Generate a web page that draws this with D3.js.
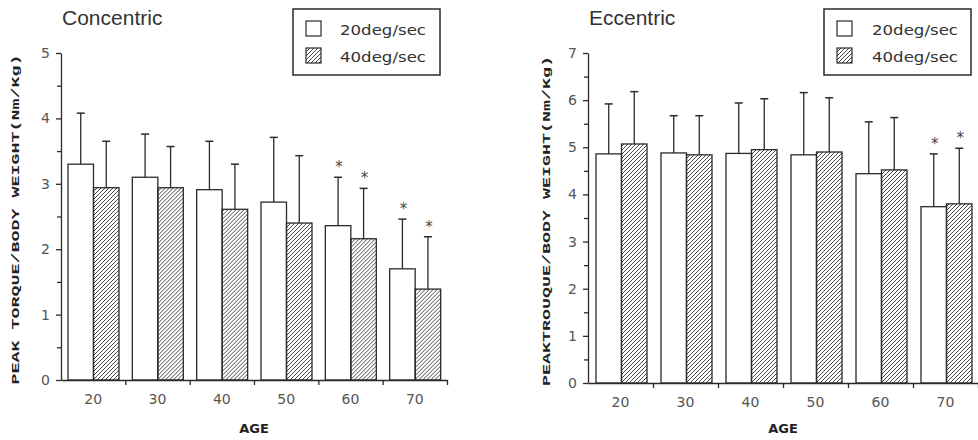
<!DOCTYPE html>
<html>
<head>
<meta charset="utf-8">
<script src="https://cdn.jsdelivr.net/npm/d3@7"></script>
<style>
  body { margin: 0; background: #fff; }
  .domain, .tick line { stroke: #2a2a2a; stroke-width: 1.3; }
</style>
</head>
<body>
<div class="chart"></div>
<script>
// data
var ages = [20, 30, 40, 50, 60, 70];
var seriesNames = ["20deg/sec", "40deg/sec"];

var concMean20 = [3.30, 3.10, 2.91, 2.72, 2.36, 1.70];
var concSD20   = [0.78, 0.66, 0.74, 0.99, 0.74, 0.76];
var concMean40 = [2.94, 2.94, 2.61, 2.40, 2.16, 1.39];
var concSD40   = [0.71, 0.63, 0.69, 1.03, 0.77, 0.80];
var concSig = [60, 70];

var eccMean20 = [4.86, 4.88, 4.87, 4.84, 4.44, 3.74];
var eccSD20   = [1.06, 0.79, 1.07, 1.32, 1.10, 1.12];
var eccMean40 = [5.07, 4.84, 4.95, 4.90, 4.52, 3.80];
var eccSD40   = [1.11, 0.83, 1.08, 1.15, 1.11, 1.18];
var eccSig = [70];

var concTicks = [0, 1, 2, 3, 4, 5];
var eccTicks = [0, 1, 2, 3, 4, 5, 6, 7];

var svg = d3.select(".chart")
  .append("svg")
  .attr("width", 978)
  .attr("height", 440);

// hatch fill
var defs = svg.append("defs");
defs.append("pattern")
  .attr("id", "hatch")
  .attr("patternUnits", "userSpaceOnUse")
  .attr("width", 4)
  .attr("height", 4)
  .append("path")
  .attr("d", "M-1,1 l2,-2 M0,4 l4,-4 M3,5 l2,-2")
  .attr("stroke", "#333")
  .attr("stroke-width", 0.9);

function styleTicks(sel) {
  sel.selectAll(".tick text")
    .attr("font-family", "DejaVu Sans, sans-serif")
    .attr("font-size", "14px")
    .attr("fill", "#555");
}

function drawPanel(p) {
  var g = svg.append("g");

  var rows = ages.map(function(a, i) {
    return {age: a, vals: [
      {s: seriesNames[0], m: p.mean20[i], sd: p.sd20[i]},
      {s: seriesNames[1], m: p.mean40[i], sd: p.sd40[i]}
    ]};
  });

  var x0 = d3.scaleBand().domain(ages).range([p.left, p.right]);
  var x1 = d3.scaleBand().domain(seriesNames).range([p.inner0, p.inner1]);
  var y = d3.scaleLinear().domain([0, d3.max(p.ticks)]).range([p.bottom, p.top]);

  // bars
  var grp = g.selectAll(".grp")
    .data(rows)
    .enter()
    .append("g")
    .attr("transform", d => `translate(${x0(d.age)},0)`);

  grp.selectAll("rect")
    .data(d => d.vals.map(v => Object.assign({age: d.age}, v)))
    .enter()
    .append("rect")
    .attr("x", d => x1(d.s))
    .attr("y", d => y(d.m))
    .attr("width", x1.bandwidth())
    .attr("height", d => y(0) - y(d.m))
    .attr("fill", d => d.s === seriesNames[0] ? "#fff" : "url(#hatch)")
    .attr("stroke", "#2a2a2a")
    .attr("stroke-width", 1.3);

  // error bars (upper only)
  var err = grp.selectAll(".err")
    .data(d => d.vals.map(v => Object.assign({age: d.age}, v)))
    .enter()
    .append("g");

  err.append("line")
    .attr("x1", d => x1(d.s) + x1.bandwidth() / 2)
    .attr("x2", d => x1(d.s) + x1.bandwidth() / 2)
    .attr("y1", d => y(d.m))
    .attr("y2", d => y(d.m + d.sd))
    .attr("stroke", "#2a2a2a")
    .attr("stroke-width", 1.3);

  err.append("line")
    .attr("x1", d => x1(d.s) + x1.bandwidth() / 2 - 4)
    .attr("x2", d => x1(d.s) + x1.bandwidth() / 2 + 4)
    .attr("y1", d => y(d.m + d.sd))
    .attr("y2", d => y(d.m + d.sd))
    .attr("stroke", "#2a2a2a")
    .attr("stroke-width", 1.5);

  err.filter(d => p.sig.indexOf(d.age) >= 0)
    .append("text")
    .attr("x", d => x1(d.s) + x1.bandwidth() / 2 + 1)
    .attr("y", d => y(d.m + d.sd) - 5)
    .attr("text-anchor", "middle")
    .attr("font-family", "DejaVu Sans, sans-serif")
    .attr("font-size", "15px")
    .attr("fill", "#444")
    .text("*");

  // y axis
  var leftAxis = d3.axisLeft(y).tickValues(p.ticks).tickFormat(d3.format("d"))
    .tickSize(5).tickSizeOuter(0).tickPadding(6);
  g.append("g")
    .attr("transform", `translate(${p.left},0)`)
    .call(leftAxis)
    .call(styleTicks);

  var minorAxis = d3.axisLeft(y)
    .tickValues(d3.range(0.5, d3.max(p.ticks), 1))
    .tickSize(4).tickSizeOuter(0).tickFormat("");
  g.append("g")
    .attr("transform", `translate(${p.left},0)`)
    .call(minorAxis)
    .select(".domain").remove();

  // x axis: boundary ticks + centered labels
  var xb = d3.scaleLinear().domain([0, ages.length]).range([p.left, p.right]);
  g.append("g")
    .attr("transform", `translate(0,${p.bottom})`)
    .call(d3.axisBottom(xb).tickValues(d3.range(1, ages.length + 1)).tickSize(5).tickSizeOuter(0).tickFormat(""));

  g.append("g")
    .attr("transform", `translate(0,${p.bottom})`)
    .call(d3.axisBottom(x0).tickSize(0).tickPadding(14))
    .call(styleTicks)
    .select(".domain").remove();

  // axis titles
  g.append("text")
    .attr("x", (p.left + p.right) / 2)
    .attr("y", 433)
    .attr("text-anchor", "middle")
    .attr("font-family", "DejaVu Sans, sans-serif")
    .attr("font-weight", "bold")
    .attr("font-size", "13px")
    .attr("fill", "#222")
    .text("AGE");

  g.append("text")
    .attr("transform", `translate(${p.ylabX},${(p.bottom + 55) / 2 + 2}) rotate(-90)`)
    .attr("text-anchor", "middle")
    .attr("font-family", "Liberation Mono, monospace")
    .attr("font-weight", "bold")
    .attr("font-size", "11px")
    .attr("textLength", 330)
    .attr("lengthAdjust", "spacingAndGlyphs")
    .attr("fill", "#222")
    .text(p.ylabel);

  // panel title
  g.append("text")
    .attr("x", p.left + 1)
    .attr("y", 25)
    .attr("font-family", "Liberation Sans, Arial, sans-serif")
    .attr("font-size", "21px")
    .attr("fill", "#333")
    .text(p.title);

  // legend
  var lg = g.append("g").attr("transform", `translate(${p.legX},9)`);
  lg.append("rect")
    .attr("width", 147).attr("height", 66)
    .attr("fill", "#fff")
    .attr("stroke", "#2a2a2a").attr("stroke-width", 1.5);
  seriesNames.forEach(function(s, i) {
    lg.append("rect")
      .attr("x", 13).attr("y", 12 + i * 27)
      .attr("width", 15).attr("height", 15)
      .attr("fill", i === 0 ? "#fff" : "url(#hatch)")
      .attr("stroke", "#2a2a2a").attr("stroke-width", 1.2);
    lg.append("text")
      .attr("x", p.legTextX).attr("y", 26 + i * 27)
      .attr("font-family", "DejaVu Sans, sans-serif")
      .attr("font-size", "14px")
      .attr("textLength", 86)
      .attr("lengthAdjust", "spacingAndGlyphs")
      .attr("fill", "#333")
      .text(s);
  });
}

drawPanel({
  title: "Concentric",
  ylabel: "PEAK TORQUE/BODY WEIGHT(Nm/Kg)",
  mean20: concMean20, sd20: concSD20, mean40: concMean40, sd40: concSD40,
  sig: concSig, ticks: concTicks,
  left: 61, right: 447, inner0: 7, inner1: 58,
  top: 53, bottom: 380, ylabX: 19,
  legX: 293, legTextX: 47
});

drawPanel({
  title: "Eccentric",
  ylabel: "PEAKTROUQUE/BODY WEIGHT(Nm/Kg)",
  mean20: eccMean20, sd20: eccSD20, mean40: eccMean40, sd40: eccSD40,
  sig: eccSig, ticks: eccTicks,
  left: 588, right: 978, inner0: 8, inner1: 59,
  top: 53, bottom: 383, ylabX: 550,
  legX: 824, legTextX: 48
});
</script>
</body>
</html>
